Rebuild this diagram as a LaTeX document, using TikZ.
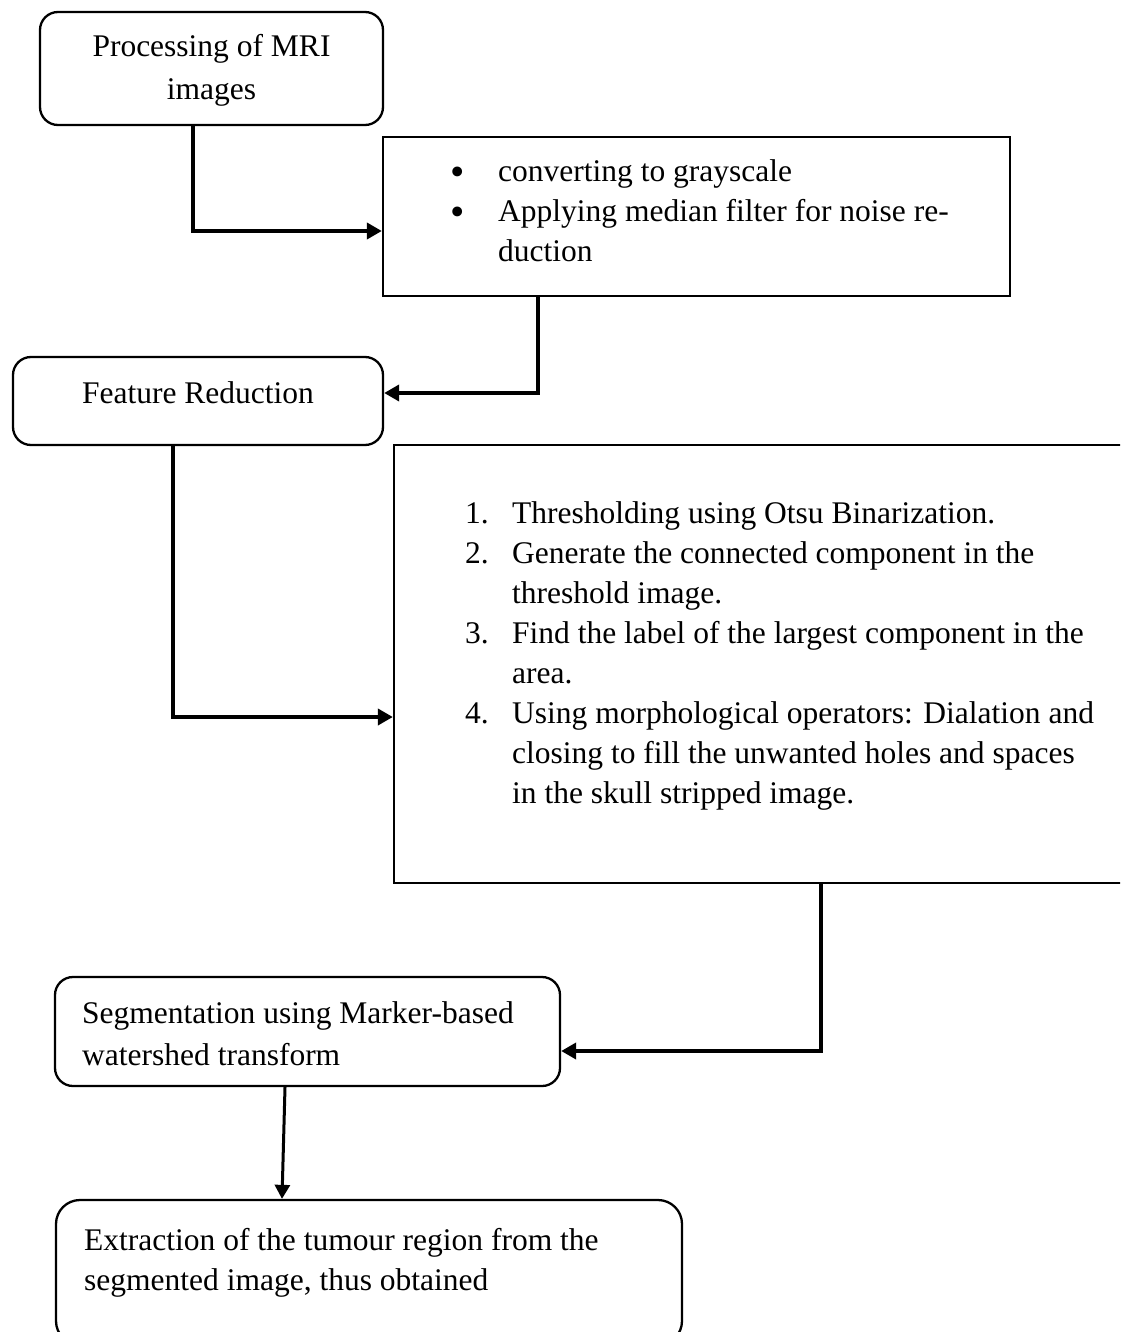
\documentclass[tikz,border=0pt]{standalone}
\usepackage{fontspec}
\setmainfont{Liberation Serif}
\usetikzlibrary{arrows.meta}
\begin{document}
\begin{tikzpicture}[x=1pt,y=-1pt,
  rbox/.style={draw, line width=2.3pt, rounded corners=18pt, inner sep=0pt},
  sbox/.style={draw, line width=2.3pt, inner sep=0pt},
  txt/.style={inner sep=0pt, font=\fontsize{31.5pt}{40pt}\selectfont},
  bul/.style={inner sep=0pt, anchor=base, font=\fontsize{41pt}{41pt}\selectfont},
  conn/.style={line width=4pt, -{Triangle[length=15pt,width=16pt]}},
  thinconn/.style={line width=3pt, -{Triangle[length=14pt,width=15pt]}},
]
\useasboundingbox (0,0) rectangle (1120,1332);
\clip (0,0) rectangle (1120,1332);

% boxes
\node[rbox, minimum width=343pt, minimum height=113pt] (A) at (211.5,68.5) {};
\node[sbox, minimum width=627pt, minimum height=159pt] (B) at (696.5,216.5) {};
\node[rbox, minimum width=370pt, minimum height=88pt] (C) at (198,401) {};
\node[sbox, minimum width=746pt, minimum height=438pt] (D) at (767,664) {};
\node[rbox, minimum width=505pt, minimum height=109pt] (E) at (307.5,1031.5) {};
\node[rbox, rounded corners=24pt, minimum width=626pt, minimum height=145pt] (F) at (369,1272.5) {};

% texts
\node[txt, anchor=base] (At) at (211.5,57) {\begin{tabular}[t]{@{}c@{}}Processing of MRI\\[3pt]images\end{tabular}};

\node[bul] (Bb1) at (458,185.5) {\textbullet};
\node[bul] (Bb2) at (458,225.5) {\textbullet};
\node[txt, anchor=base west] (Bt1) at (498,182) {converting to grayscale};
\node[txt, anchor=base west] (Bt2) at (498,222) {\begin{tabular}[t]{@{}l@{}}Applying median filter for noise re-\\duction\end{tabular}};

\node[txt, anchor=base] (Ct) at (198,403) {Feature Reduction};

\node[txt, anchor=base west] (Dn1) at (465,523) {1.};
\node[txt, anchor=base west] (Dn2) at (465,563) {2.};
\node[txt, anchor=base west] (Dn3) at (465,643) {3.};
\node[txt, anchor=base west] (Dn4) at (465,723) {4.};
\node[txt, anchor=base west] (Dt1) at (512,523) {Thresholding using Otsu Binarization.};
\node[txt, anchor=base west] (Dt2) at (512,563) {\begin{tabular}[t]{@{}l@{}}Generate the connected component in the\\threshold image.\end{tabular}};
\node[txt, anchor=base west] (Dt3) at (512,643) {\begin{tabular}[t]{@{}l@{}}Find the label of the largest component in the\\area.\end{tabular}};
\node[txt, anchor=base west] (Dt4) at (512,723) {\begin{tabular}[t]{@{}l@{}}Using morphological operators: Dialation and\\closing to fill the unwanted holes and spaces\\in the skull stripped image.\end{tabular}};

\node[txt, anchor=base west] (Et) at (82,1023) {\begin{tabular}[t]{@{}l@{}}Segmentation using Marker-based\\[2pt]watershed transform\end{tabular}};

\node[txt, anchor=base west] (Ft) at (84,1250) {\begin{tabular}[t]{@{}l@{}}Extraction of the tumour region from the\\segmented image, thus obtained\end{tabular}};

% connectors
\draw[conn] ([xshift=-18.5pt]A.south) |- ([yshift=-14.5pt]B.west);
\draw[conn] ([xshift=-158.5pt]B.south) |- ([yshift=8pt]C.east);
\draw[conn] ([xshift=-25pt]C.south) |- ([yshift=-53pt]D.west);
\draw[conn] ([xshift=54pt]D.south) |- ([yshift=-19.5pt]E.east);
\draw[thinconn] ([xshift=-22.5pt]E.south) -- ([xshift=-87pt]F.north);
\end{tikzpicture}
\end{document}
